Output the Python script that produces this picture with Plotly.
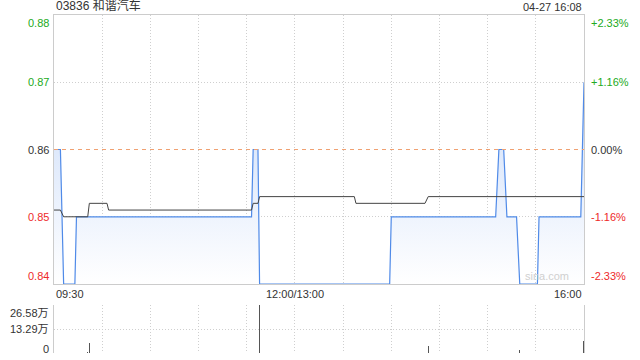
import plotly.graph_objects as go

# ---- data (minutes since 09:30, trading minutes, lunch break removed) ----
price_t = [0, 4, 6, 13, 14, 123, 124, 127, 128, 209, 210, 275, 277, 280, 282, 288, 290, 301, 302, 328, 330]
price_v = [0.86, 0.86, 0.84, 0.84, 0.85, 0.85, 0.86, 0.86, 0.84, 0.84, 0.85, 0.85, 0.86, 0.86, 0.85, 0.85, 0.84, 0.84, 0.85, 0.85, 0.87]

avg_t = [0, 4, 6, 21, 22, 33, 34, 123, 124, 127, 128, 187, 188, 231, 233, 330]
avg_v = [0.851, 0.851, 0.850, 0.850, 0.852, 0.852, 0.851, 0.851, 0.852, 0.852, 0.853, 0.853, 0.852, 0.852, 0.853, 0.853]

vol_t = [21, 22, 128, 233, 290, 330]
vol_v = [0.5, 5.7, 26.58, 4.0, 1.7, 6.6]  # 万

prev_close = 0.86
price_ticks = [0.84, 0.85, 0.86, 0.87, 0.88]
vol_ticks = [0, 13.29, 26.58]
vol_labels = ["0", "13.29万", "26.58万"]
grid_t = [30, 60, 90, 120, 150, 180, 210, 240, 270, 300]
xlabel_t = [0, 150, 330]
xlabel_text = ["09:30", "12:00/13:00", "16:00"]

title = "03836 和谐汽车"
stamp = "04-27 16:08"

GREEN = "#22aa22"
RED = "#ee2a2a"
DARK = "#333333"
FONT = "Arial, Liberation Sans, Noto Sans CJK SC, sans-serif"
GRIDDASH = "1px,2px"

fig = go.Figure()

fig.add_trace(go.Scatter(
    x=price_t, y=price_v, mode="lines",
    line=dict(color="#4f8ae8", width=1.2),
    fill="tozeroy",
    fillgradient=dict(type="vertical", start=0.84, stop=0.866,
                      colorscale=[[0, "rgba(255,255,255,1)"], [1, "rgba(212,226,250,1)"]]),
    hoverinfo="skip", xaxis="x", yaxis="y"))

fig.add_trace(go.Scatter(
    x=avg_t, y=avg_v, mode="lines",
    line=dict(color="#444444", width=1),
    hoverinfo="skip", xaxis="x", yaxis="y"))

fig.add_trace(go.Bar(
    x=vol_t, y=vol_v, width=0.7,
    marker=dict(color="#555555", line=dict(width=0)),
    hoverinfo="skip", xaxis="x2", yaxis="y2"))

fig.add_shape(type="line", xref="x domain", yref="y", x0=0, x1=1,
              y0=prev_close, y1=prev_close,
              line=dict(color="#f0a070", width=1, dash="4px,4px"))

ax_common = dict(range=[0, 330], tickvals=grid_t, showticklabels=False,
                 showgrid=True, gridcolor="#cfcfcf", griddash=GRIDDASH, gridwidth=1,
                 zeroline=False, showline=True, linecolor="#cccccc", mirror=True,
                 ticks="", fixedrange=True)

main_dom = [0.204, 1.0]
vol_dom = [0.0, 0.142]

fig.update_layout(
    width=640, height=360,
    margin=dict(l=54, r=56, t=15, b=7, autoexpand=False),
    paper_bgcolor="white", plot_bgcolor="white",
    showlegend=False,
    font=dict(family=FONT, size=11, color=DARK),
    xaxis=dict(domain=[0, 1], anchor="y", **ax_common),
    yaxis=dict(domain=main_dom, range=[0.84, 0.88], tickvals=[0.85, 0.87],
               showticklabels=False, showgrid=True, gridcolor="#cfcfcf",
               griddash=GRIDDASH, zeroline=False, showline=True, linecolor="#cccccc",
               mirror=True, ticks="", fixedrange=True),
    xaxis2=dict(domain=[0, 1], anchor="y2", **{**ax_common, "showline": False}),
    yaxis2=dict(domain=vol_dom, range=[0, 26.58], tickvals=vol_ticks,
                showticklabels=False, showgrid=True, gridcolor="#cfcfcf",
                griddash=GRIDDASH, zeroline=False, showline=True, linecolor="#cccccc",
                mirror=True, ticks="", fixedrange=True),
    bargap=0,
)

ann = []
# title and timestamp
ann.append(dict(text=title, xref="paper", yref="paper", x=0, y=1, yanchor="bottom",
                xanchor="left", showarrow=False,
                font=dict(size=12, color=DARK)))
ann.append(dict(text=stamp, xref="paper", yref="paper", x=1, y=1, yanchor="bottom",
                xanchor="right", showarrow=False, font=dict(size=11, color=DARK)))

# price / percent labels
for v in price_ticks:
    pct = (v / prev_close - 1) * 100
    if abs(pct) < 1e-9:
        col = DARK
        ptxt = "0.00%"
    elif pct > 0:
        col = GREEN
        ptxt = "+%.2f%%" % pct
    else:
        col = RED
        ptxt = "%.2f%%" % pct
    if v == max(price_ticks):
        ya = "top"
    elif v == min(price_ticks):
        ya = "bottom"
    else:
        ya = "middle"
    ann.append(dict(text="%.2f" % v, xref="paper", yref="y", x=0, y=v, xanchor="right",
                    yanchor=ya, xshift=-3, showarrow=False,
                    font=dict(size=11, color=col)))
    ann.append(dict(text=ptxt, xref="paper", yref="y", x=1, y=v, xanchor="left",
                    yanchor=ya, xshift=5, showarrow=False,
                    font=dict(size=11, color=col)))

# volume labels
for v, t in zip(vol_ticks, vol_labels):
    if v == max(vol_ticks):
        ya, ys = "top", 0
    elif v == 0:
        ya, ys = "middle", 4
    else:
        ya, ys = "middle", 0
    ann.append(dict(text=t, xref="paper", yref="y2", x=0, y=v, xanchor="right",
                    yanchor=ya, xshift=-3, yshift=ys, showarrow=False,
                    font=dict(size=11, color=DARK)))

# time labels
anchors = ["left", "center", "right"]
for t, txt, a in zip(xlabel_t, xlabel_text, anchors):
    ann.append(dict(text=txt, xref="x", yref="paper", x=t, y=main_dom[0],
                    xanchor=a, yanchor="top", yshift=-2, showarrow=False,
                    font=dict(size=11, color=DARK)))

# watermark
ann.append(dict(text="sina.com", xref="paper", yref="y", x=0.975, y=0.84,
                xanchor="right", yanchor="bottom", showarrow=False,
                font=dict(size=11, color="#d0d0d0")))

fig.update_layout(annotations=ann)

fig.write_html("out.html", config={"displayModeBar": False, "staticPlot": True},
               post_script="document.body.style.margin='0';document.body.style.overflow='hidden';")
